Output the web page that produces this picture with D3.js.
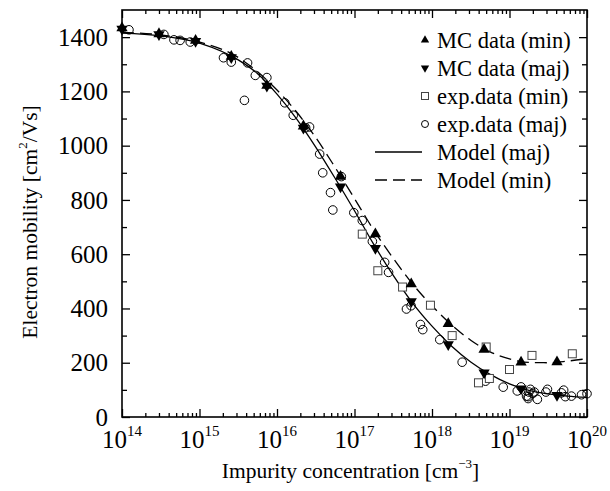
<!DOCTYPE html>
<html>
<head>
<meta charset="utf-8">
<script src="https://cdn.jsdelivr.net/npm/d3@7"></script>
<style>
  body { margin: 0; background: #fff; }
  svg { display: block; font-family: "Liberation Serif", "Times New Roman", serif; }
  .tick-label { font-size: 25px; fill: #000; font-family: "Liberation Serif", serif; }
  .axis-label { font-size: 21.5px; fill: #000; }
  .legend-text { font-size: 22.5px; fill: #000; }
</style>
</head>
<body>
<svg id="chart" width="610" height="491"></svg>
<script>
// MC simulation (minority / majority), concentration in cm^-3, mobility in cm2/Vs
const mcN = [1e14, 3.0e14, 8.9e14, 2.57e15, 7.4e15, 2.19e16, 6.6e16, 1.86e17, 5.4e17, 1.62e18, 4.7e18, 1.41e19, 4.1e19];
const mcMin = [1434, 1412, 1388, 1329, 1222, 1072, 886, 674, 490, 344, 249, 202, 203];
const mcMaj = [1430, 1410, 1385, 1325, 1220, 1065, 849, 622, 426, 267, 163, 104, 80];

// experimental data, minority carriers
const expMin = [
  [1.26e17, 674], [2.0e17, 539], [4.17e17, 479], [9.55e17, 412], [1.82e18, 300],
  [3.98e18, 126], [5.5e18, 142], [5.0e18, 258], [1.0e19, 175], [1.95e19, 227], [6.46e19, 233],
];

// experimental data, majority carriers
const expMaj = [
  [1.23e14, 1427], [3.47e14, 1410], [4.68e14, 1390], [5.62e14, 1388], [7.6e14, 1382],
  [2.04e15, 1324], [2.57e15, 1308], [4.17e15, 1305], [3.8e15, 1167], [5.25e15, 1259],
  [7.4e15, 1251], [1.26e16, 1158], [1.62e16, 1112], [2.34e16, 1066], [2.63e16, 1069],
  [3.55e16, 969], [3.89e16, 900], [4.9e16, 827], [5.25e16, 763], [6.76e16, 886],
  [9.8e16, 753], [1.26e17, 724], [1.7e17, 647], [2.45e17, 570], [2.75e17, 533],
  [4.68e17, 398], [5.37e17, 410], [7.1e17, 341], [7.6e17, 322], [1.26e18, 285],
  [2.45e18, 202], [4.9e18, 132], [8.3e18, 110], [1.26e19, 96], [1.41e19, 111],
  [1.66e19, 77], [1.78e19, 92], [1.86e19, 102], [2.0e19, 87], [2.09e19, 92],
  [2.29e19, 65], [1.74e19, 75], [1.74e19, 68], [2.95e19, 92], [3.09e19, 102],
  [4.68e19, 89], [5.0e19, 99], [5.25e19, 75], [6.3e19, 77], [8.5e19, 82], [1.0e20, 86],
];

// model curves
const modelN = [1e14, 3.16e14, 1e15, 3.16e15, 5.62e15, 1e16, 1.78e16, 3.16e16, 5.62e16, 1e17, 1.78e17,
  3.16e17, 5.62e17, 1e18, 1.78e18, 3.16e18, 5.62e18, 1e19, 1.78e19, 3.16e19, 5.62e19, 1e20];
const modelMaj = [1415, 1405, 1378, 1316, 1265, 1190, 1100, 995, 880, 760, 635,
  522, 420, 335, 262, 203, 157, 122, 98, 85, 77, 72];
const modelMin = [1418, 1408, 1382, 1325, 1272, 1205, 1125, 1030, 920, 805, 688,
  585, 490, 410, 340, 283, 240, 214, 201, 200, 206, 215];

const xDecades = [14, 15, 16, 17, 18, 19, 20];
const yTicks = [0, 200, 400, 600, 800, 1000, 1200, 1400];

const legendItems = [
  { label: "MC data (min)", kind: "up" },
  { label: "MC data (maj)", kind: "down" },
  { label: "exp.data (min)", kind: "square" },
  { label: "exp.data (maj)", kind: "circle" },
  { label: "Model (maj)", kind: "solid" },
  { label: "Model (min)", kind: "dashed" },
];

const svg = d3.select("#chart");
const margin = { top: 10, right: 23, bottom: 74, left: 122 };
const width = 610 - margin.left - margin.right;
const height = 491 - margin.top - margin.bottom;

const x = d3.scaleLog().domain([1e14, 1e20]).range([0, width]);
const y = d3.scaleLinear().domain([0, 1500]).range([height, 0]);

const g = svg.append("g").attr("transform", `translate(${margin.left},${margin.top})`);

// minor log ticks
const minorX = [];
for (let e = 14; e < 20; e++) for (let m = 2; m <= 9; m++) minorX.push(m * Math.pow(10, e));
const majorX = xDecades.map((e) => Math.pow(10, e));
const minorY = d3.range(100, 1500, 200);

function styleAxis(sel) {
  sel.select(".domain").remove();
  sel.selectAll("line").attr("stroke", "#000").attr("stroke-width", 1.3);
}

g.append("g").attr("transform", `translate(0,${height})`)
  .call(d3.axisBottom(x).tickValues(majorX).tickSize(-8).tickFormat("")).call(styleAxis);
g.append("g").attr("transform", `translate(0,${height})`)
  .call(d3.axisBottom(x).tickValues(minorX).tickSize(-4).tickFormat("")).call(styleAxis);
g.append("g")
  .call(d3.axisTop(x).tickValues(majorX).tickSize(-8).tickFormat("")).call(styleAxis);
g.append("g")
  .call(d3.axisTop(x).tickValues(minorX).tickSize(-4).tickFormat("")).call(styleAxis);
g.append("g")
  .call(d3.axisLeft(y).tickValues(yTicks).tickSize(-8).tickFormat("")).call(styleAxis);
g.append("g")
  .call(d3.axisLeft(y).tickValues(minorY).tickSize(-5).tickFormat("")).call(styleAxis);
g.append("g").attr("transform", `translate(${width},0)`)
  .call(d3.axisRight(y).tickValues(yTicks).tickSize(-8).tickFormat("")).call(styleAxis);
g.append("g").attr("transform", `translate(${width},0)`)
  .call(d3.axisRight(y).tickValues(minorY).tickSize(-5).tickFormat("")).call(styleAxis);

// frame
g.append("rect")
  .attr("width", width)
  .attr("height", height)
  .attr("fill", "none")
  .attr("stroke", "#000")
  .attr("stroke-width", 1.6);

// y tick labels
g.append("g")
  .selectAll("text")
  .data(yTicks)
  .join("text")
  .attr("class", "tick-label")
  .attr("x", -14)
  .attr("y", (d) => y(d))
  .attr("dy", "0.35em")
  .attr("text-anchor", "end")
  .text((d) => d);

// x tick labels, 10^n
const xl = g.append("g")
  .selectAll("text")
  .data(xDecades)
  .join("text")
  .attr("class", "tick-label")
  .attr("x", (d) => x(Math.pow(10, d)))
  .attr("y", height + 31)
  .attr("text-anchor", "middle");
xl.append("tspan").text("10");
xl.append("tspan").attr("dy", -12).style("font-size", "15px").text((d) => d);

// axis titles
const xt = svg.append("text")
  .attr("class", "axis-label")
  .attr("x", margin.left + width / 2 - 4)
  .attr("y", 478)
  .attr("text-anchor", "middle");
xt.append("tspan").text("Impurity concentration [cm");
xt.append("tspan").attr("dy", -10).style("font-size", "13px").text("\u22123");
xt.append("tspan").attr("dy", 10).text("]");

const yt = svg.append("text")
  .attr("class", "axis-label")
  .attr("transform", `translate(37,${margin.top + 212}) rotate(-90)`)
  .attr("text-anchor", "middle");
yt.append("tspan").text("Electron mobility [cm");
yt.append("tspan").attr("dy", -10).style("font-size", "13px").text("2");
yt.append("tspan").attr("dy", 10).text("/Vs]");

// model curves
const line = d3.line()
  .x((d) => x(d[0]))
  .y((d) => y(d[1]))
  .curve(d3.curveMonotoneX);

g.append("path")
  .datum(modelN.map((n, i) => [n, modelMaj[i]]))
  .attr("fill", "none")
  .attr("stroke", "#000")
  .attr("stroke-width", 1.3)
  .attr("d", line);

g.append("path")
  .datum(modelN.map((n, i) => [n, modelMin[i]]))
  .attr("fill", "none")
  .attr("stroke", "#000")
  .attr("stroke-width", 1.3)
  .attr("stroke-dasharray", "12,6")
  .attr("d", line);

// markers
const triUp = d3.symbol().type(d3.symbolTriangle).size(55);

g.append("g")
  .selectAll("circle")
  .data(expMaj)
  .join("circle")
  .attr("cx", (d) => x(d[0]))
  .attr("cy", (d) => y(d[1]))
  .attr("r", 4.3)
  .attr("fill", "none")
  .attr("stroke", "#000")
  .attr("stroke-width", 1);

g.append("g")
  .selectAll("rect")
  .data(expMin)
  .join("rect")
  .attr("x", (d) => x(d[0]) - 4)
  .attr("y", (d) => y(d[1]) - 4)
  .attr("width", 8)
  .attr("height", 8)
  .attr("fill", "#fff")
  .attr("stroke", "#444")
  .attr("stroke-width", 1);

g.append("g")
  .selectAll("path")
  .data(mcN.map((n, i) => [n, mcMin[i]]))
  .join("path")
  .attr("d", triUp)
  .attr("transform", (d) => `translate(${x(d[0])},${y(d[1])})`)
  .attr("fill", "#000");

g.append("g")
  .selectAll("path")
  .data(mcN.map((n, i) => [n, mcMaj[i]]))
  .join("path")
  .attr("d", triUp)
  .attr("transform", (d) => `translate(${x(d[0])},${y(d[1])}) rotate(180)`)
  .attr("fill", "#000");

// legend
const legend = svg.append("g");
const rows = legend.selectAll("g")
  .data(legendItems)
  .join("g")
  .attr("transform", (d, i) => `translate(0,${40 + i * 28})`);

rows.append("text")
  .attr("class", "legend-text")
  .attr("x", 437)
  .attr("dy", "0.35em")
  .text((d) => d.label);

const smallTri = d3.symbol().type(d3.symbolTriangle).size(30);
rows.each(function (d) {
  const r = d3.select(this);
  if (d.kind === "up") {
    r.append("path").attr("d", smallTri).attr("transform", "translate(425,0)");
  } else if (d.kind === "down") {
    r.append("path").attr("d", smallTri).attr("transform", "translate(425,0) rotate(180)");
  } else if (d.kind === "square") {
    r.append("rect").attr("x", 421.5).attr("y", -3.5).attr("width", 7).attr("height", 7)
      .attr("fill", "none").attr("stroke", "#444");
  } else if (d.kind === "circle") {
    r.append("circle").attr("cx", 425).attr("r", 3.5).attr("fill", "none").attr("stroke", "#000");
  } else {
    r.append("line").attr("x1", 375).attr("x2", 422)
      .attr("stroke", "#000").attr("stroke-width", 1.3)
      .attr("stroke-dasharray", d.kind === "dashed" ? "12,6" : null);
  }
});
</script>
</body>
</html>
